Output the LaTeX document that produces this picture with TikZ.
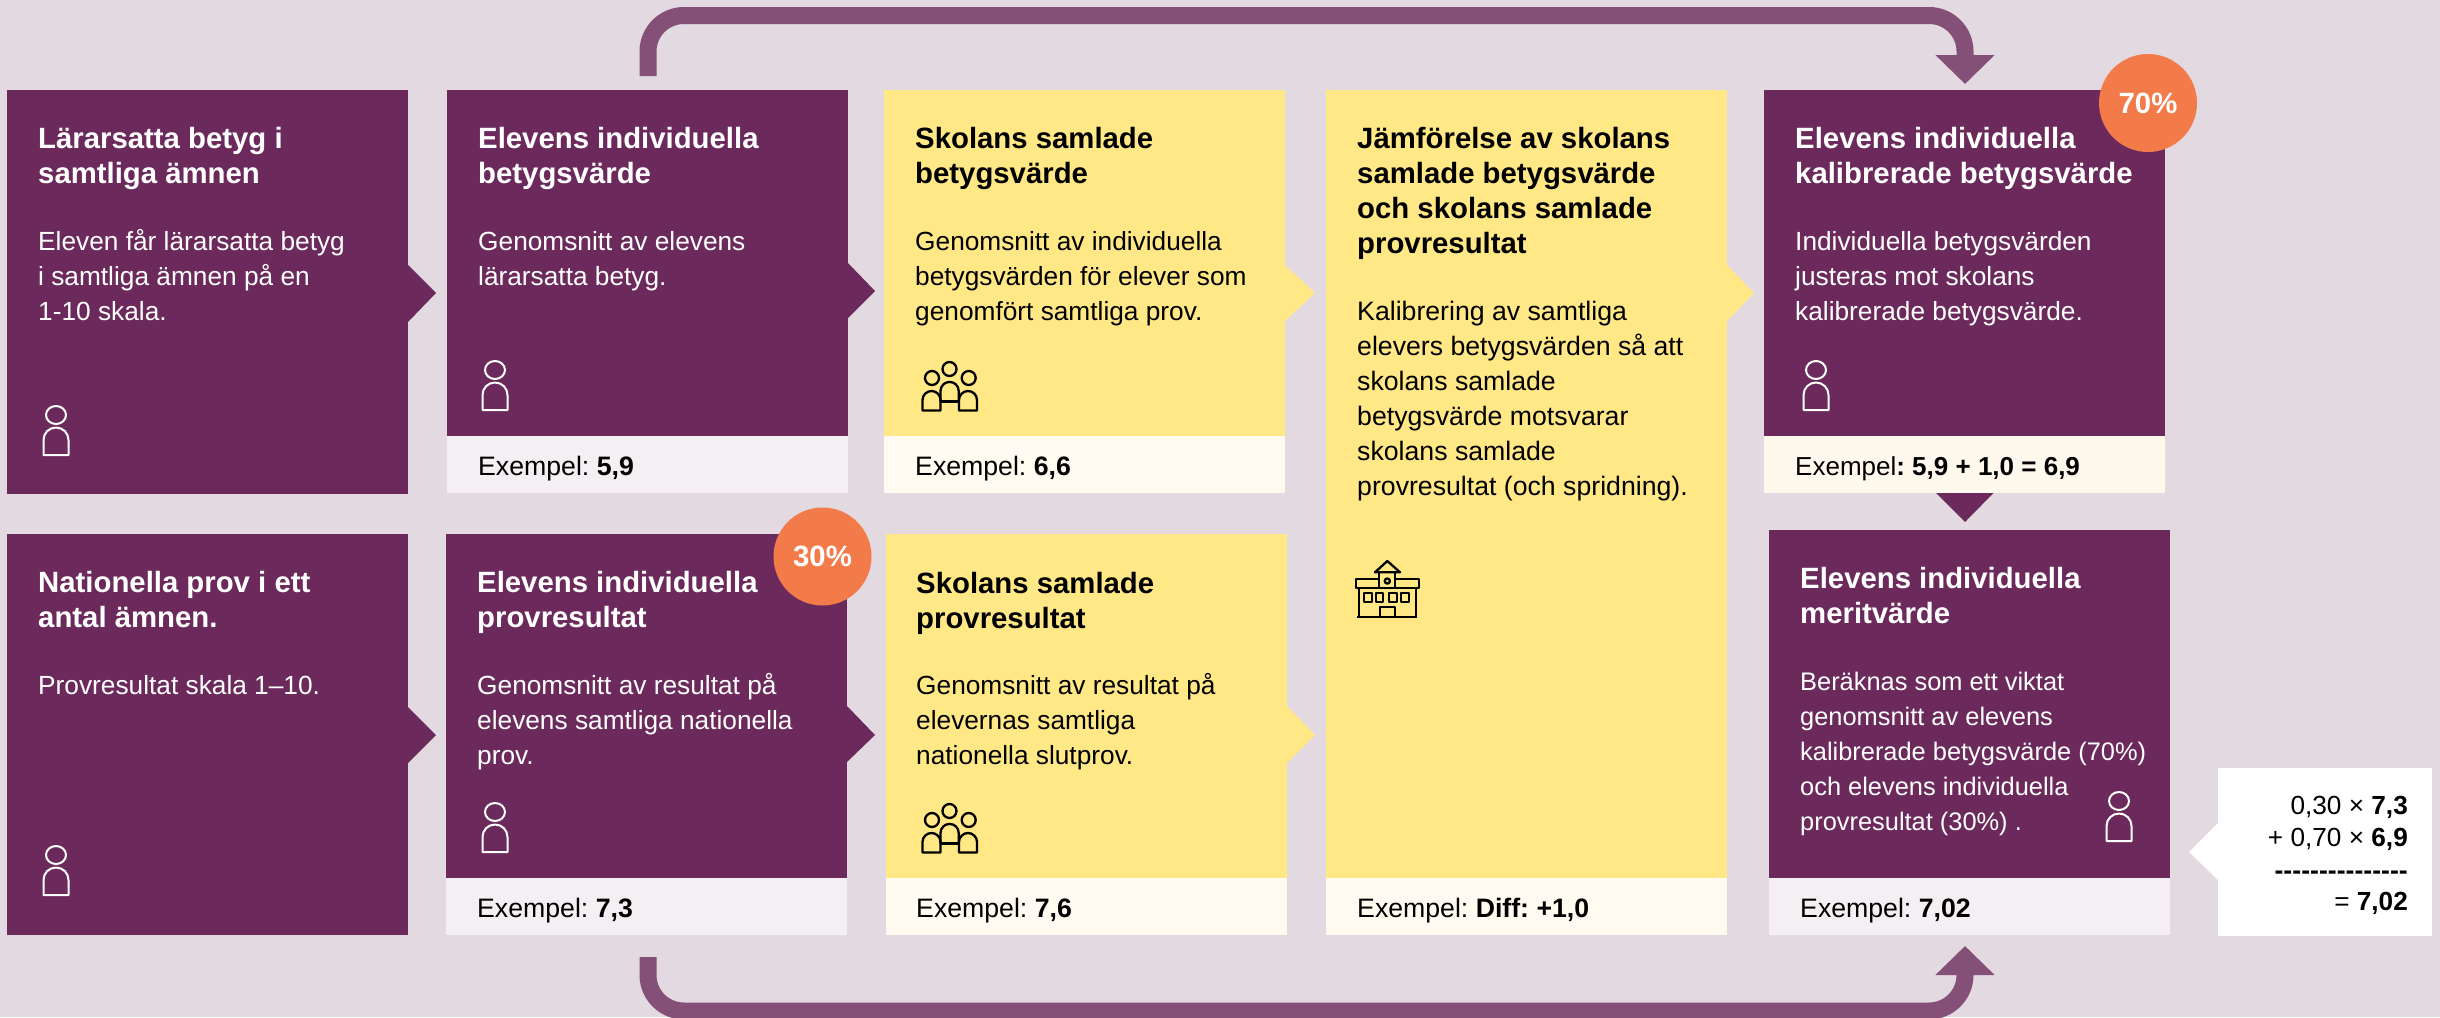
\documentclass[tikz,border=0pt]{standalone}
\usepackage{fontspec}
\setmainfont{Liberation Sans}
\usetikzlibrary{arrows.meta}
\frenchspacing
\definecolor{bgc}{HTML}{E3D9E1}
\definecolor{plum}{HTML}{6B2A5B}
\definecolor{sun}{HTML}{FFE885}
\definecolor{coral}{HTML}{F37B4A}
\definecolor{flow}{HTML}{855077}
\definecolor{footp}{HTML}{F3EFF3}
\definecolor{footy}{HTML}{FFFBF0}
\definecolor{foots}{HTML}{FFF8EC}
\newcommand{\tb}[1]{\begin{tabular}[t]{@{}l@{}}#1\end{tabular}}
\tikzset{
  x=1pt,y=-1pt,
  card/.style={inner sep=0,outer sep=0,anchor=north west,minimum width=401pt},
  plumcard/.style={card,fill=plum},
  suncard/.style={card,fill=sun},
  foot/.style={card,minimum height=57pt},
  txt/.style={inner sep=0,anchor=base west},
  ttl/.style={txt,font=\fontsize{29.33}{35}\selectfont\frenchspacing\bfseries},
  bdy/.style={txt,font=\fontsize{26.27}{35}\selectfont\frenchspacing},
  bdywide/.style={txt,font=\fontsize{26.67}{35}\selectfont\frenchspacing},
  bdytight/.style={txt,font=\fontsize{25.4}{35}\selectfont\frenchspacing},
  ex/.style={txt,font=\fontsize{26.67}{35}\selectfont\frenchspacing,text=black},
  extight/.style={txt,font=\fontsize{26}{35}\selectfont\frenchspacing,text=black},
  calc/.style={inner sep=0,anchor=base east,font=\fontsize{26.2}{32}\selectfont\frenchspacing,text=black},
  onplum/.style={text=white},
  onsun/.style={text=black},
  badge/.style={circle,fill=coral,inner sep=0,minimum size=98pt,text=white,font=\fontsize{29.33}{34}\selectfont\bfseries},
  flowline/.style={draw=flow,line width=17pt,rounded corners=36pt,-{Triangle[width=57.5pt,length=29pt]}},
  ico/.style={line width=2.3pt,line join=round},
}
% person icon: head centre at (#1,#2)
\newcommand{\person}[2]{%
  \draw[white,ico,line width=2pt] (#1,#2) ellipse [x radius=10,y radius=9];
  \draw[white,ico,line width=2pt] (#1-12.5,#2+40) -- (#1-12.5,#2+25) arc[start angle=180,end angle=360,radius=12.5] -- (#1+12.5,#2+40) -- cycle;
}
% group icon: origin is (#1,#2)
\newcommand{\group}[2]{%
  \begin{scope}[shift={(#1,#2)},black,ico]
    \draw (39.5,19) circle (7);
    \draw (22,28) circle (7);
    \draw (58.7,28) circle (7);
    \draw (12.5,60.5) -- (12.5,50) arc[start angle=180,end angle=360,radius=9] -- (30.5,60.5) -- cycle;
    \draw (49,60.5) -- (49,50) arc[start angle=180,end angle=360,radius=9] -- (67,60.5) -- cycle;
    \draw (30.5,52) -- (30.5,41) arc[start angle=180,end angle=360,radius=9.1] -- (48.7,52);
    \draw (30.5,51.5) -- (49,51.5);
  \end{scope}
}
\begin{document}
\begin{tikzpicture}
\useasboundingbox (0,0) rectangle (2440,1017);
\clip (0,0) rectangle (2440,1017);
\fill[bgc] (0,0) rectangle (2440,1017);

% connectors
\coordinate (topS) at (648,76);
\coordinate (topA) at (648,15.5);
\coordinate (topB) at (1965,15.5);
\coordinate (topE) at (1965,84);
\draw[flowline] (topS) -- (topA) -- (topB) -- (topE);
\coordinate (botS) at (648,957);
\coordinate (botA) at (648,1011);
\coordinate (botB) at (1965,1011);
\coordinate (botE) at (1965,946);
\draw[flowline] (botS) -- (botA) -- (botB) -- (botE);

% cards
\node[plumcard,minimum height=404pt] (a1) at (7,90) {};
\node[plumcard,minimum height=346pt] (a2) at (447,90) {};
\node[foot,fill=footp] (a2f) at (447,436) {};
\node[suncard,minimum height=346pt] (a3) at (884,90) {};
\node[foot,fill=footy] (a3f) at (884,436) {};
\node[suncard,minimum height=788pt] (c4) at (1326,90) {};
\node[foot,fill=footy] (c4f) at (1326,878) {};
\node[plumcard,minimum height=346pt] (a5) at (1764,90) {};
\node[foot,fill=foots] (a5f) at (1764,436) {};
\node[plumcard,minimum height=401pt] (b1) at (7,534) {};
\node[plumcard,minimum height=344pt] (b2) at (446,534) {};
\node[foot,fill=footp] (b2f) at (446,878) {};
\node[suncard,minimum height=344pt] (b3) at (886,534) {};
\node[foot,fill=footy] (b3f) at (886,878) {};
\node[plumcard,minimum height=348pt] (b5) at (1769,530) {};
\node[foot,fill=footp] (b5f) at (1769,878) {};
\node[inner sep=0,anchor=north west,fill=white,minimum width=214pt,minimum height=168pt] (calcbox) at (2218,768) {};

% pointers
\fill[plum] (408,265) -- (436,293) -- (408,322) -- cycle;
\fill[plum] (848,263) -- (875,291) -- (848,318) -- cycle;
\fill[sun] (1285,265) -- (1315,293) -- (1285,321) -- cycle;
\fill[sun] (1727,265) -- (1754,293) -- (1727,321) -- cycle;
\fill[plum] (408,707) -- (436,735) -- (408,763) -- cycle;
\fill[plum] (847,706) -- (875,735) -- (847,762) -- cycle;
\fill[sun] (1287,706) -- (1315,735) -- (1287,763) -- cycle;
\fill[plum] (1936,493) -- (1965,522) -- (1993.5,493) -- cycle;
\fill[white] (2218,823) -- (2189,852) -- (2218,880) -- cycle;

% badges
\node[badge] (p70) at (2148,103) {70\%};
\node[badge] (p30) at (822.5,556.5) {30\%};

% titles
\node[ttl,onplum] (t1) at (38,148) {\tb{Lärarsatta betyg i\\samtliga ämnen}};
\node[ttl,onplum] (t2) at (478,148) {\tb{Elevens individuella\\betygsvärde}};
\node[ttl,onsun] (t3) at (915,148) {\tb{Skolans samlade\\betygsvärde}};
\node[ttl,onsun] (t4) at (1357,148) {\tb{Jämförelse av skolans\\samlade betygsvärde\\och skolans samlade\\provresultat}};
\node[ttl,onplum] (t5) at (1795,148) {\tb{Elevens individuella\\kalibrerade betygsvärde}};
\node[ttl,onplum] (t6) at (38,592) {\tb{Nationella prov i ett\\antal ämnen.}};
\node[ttl,onplum] (t7) at (477,592) {\tb{Elevens individuella\\provresultat}};
\node[ttl,onsun] (t8) at (916,593) {\tb{Skolans samlade\\provresultat}};
\node[ttl,onplum] (t9) at (1800,588) {\tb{Elevens individuella\\meritvärde}};

% bodies
\node[bdy,onplum] (d1) at (38,250) {\tb{Eleven får lärarsatta betyg\\i samtliga ämnen på en\\1-10 skala.}};
\node[bdy,onplum] (d2) at (478,250) {\tb{Genomsnitt av elevens\\lärarsatta betyg.}};
\node[bdy,onsun] (d3) at (915,250) {\tb{Genomsnitt av individuella\\betygsvärden för elever som\\genomfört samtliga prov.}};
\node[bdywide,onsun] (d4) at (1357,320.5) {\tb{Kalibrering av samtliga\\elevers betygsvärden så att\\skolans samlade\\betygsvärde motsvarar\\skolans samlade\\provresultat (och spridning).}};
\node[bdy,onplum] (d5) at (1795,250) {\tb{Individuella betygsvärden\\justeras mot skolans\\kalibrerade betygsvärde.}};
\node[bdy,onplum] (d6) at (38,694) {\tb{Provresultat skala 1–10.}};
\node[bdy,onplum] (d7) at (477,694) {\tb{Genomsnitt av resultat på\\elevens samtliga nationella\\prov.}};
\node[bdy,onsun] (d8) at (916,694) {\tb{Genomsnitt av resultat på\\elevernas samtliga\\nationella slutprov.}};
\node[bdytight,onplum] (d9) at (1800,690) {\tb{Beräknas som ett viktat\\genomsnitt av elevens\\kalibrerade betygsvärde (70\%)\\och elevens individuella\\provresultat (30\%) .}};

% examples
\node[ex] (e2) at (478,475) {Exempel: \textbf{5,9}};
\node[ex] (e3) at (915,475) {Exempel: \textbf{6,6}};
\node[extight] (e5) at (1795,475) {Exempel\textbf{: 5,9 + 1,0 = 6,9}};
\node[ex] (e7) at (477,917) {Exempel: \textbf{7,3}};
\node[ex] (e8) at (916,917) {Exempel: \textbf{7,6}};
\node[ex] (e4) at (1357,917) {Exempel: \textbf{Diff: +1,0}};
\node[ex] (e9) at (1800,917) {Exempel: \textbf{7,02}};

% calculation
\node[calc] (m1) at (2408,814) {0,30 × \textbf{7,3}};
\node[calc] (m2) at (2408,846) {+ 0,70 × \textbf{6,9}};
\node[calc,font=\fontsize{26.67}{32}\selectfont\bfseries] (m3) at (2408,879) {-{}-{}-{}-{}-{}-{}-{}-{}-{}-{}-{}-{}-{}-{}-};
\node[calc] (m4) at (2408,910) {= \textbf{7,02}};

% icons
\person{56}{415}
\person{495}{370}
\person{1816}{370}
\person{56}{855}
\person{495}{812}
\person{2119}{801}
\group{910}{350}
\group{910}{792}
\begin{scope}[black,ico]
  \draw (1375,572.3) -- (1387.3,561) -- (1400,572.3) -- cycle;
  \draw (1379.3,572.3) -- (1379.3,588) (1395,572.3) -- (1395,588);
  \draw (1355.7,579) rectangle (1379.3,587.7);
  \draw (1395,579) rectangle (1419,587.7);
  \draw (1359,587.7) -- (1359,616.7) (1415.7,587.7) -- (1415.7,616.7);
  \draw (1379.3,587.7) -- (1395,587.7);
  \draw (1357.3,616.7) -- (1417.3,616.7);
  \draw (1387.3,581) circle (2.6);
  \draw (1364,593.3) rectangle (1371.7,601.7);
  \draw (1376,593.3) rectangle (1383.3,601.7);
  \draw (1389,593.3) rectangle (1396.7,601.7);
  \draw (1401,593.3) rectangle (1409,601.7);
  \draw (1380,616.7) -- (1380,606.7) -- (1395,606.7) -- (1395,616.7);
\end{scope}
\end{tikzpicture}
\end{document}
